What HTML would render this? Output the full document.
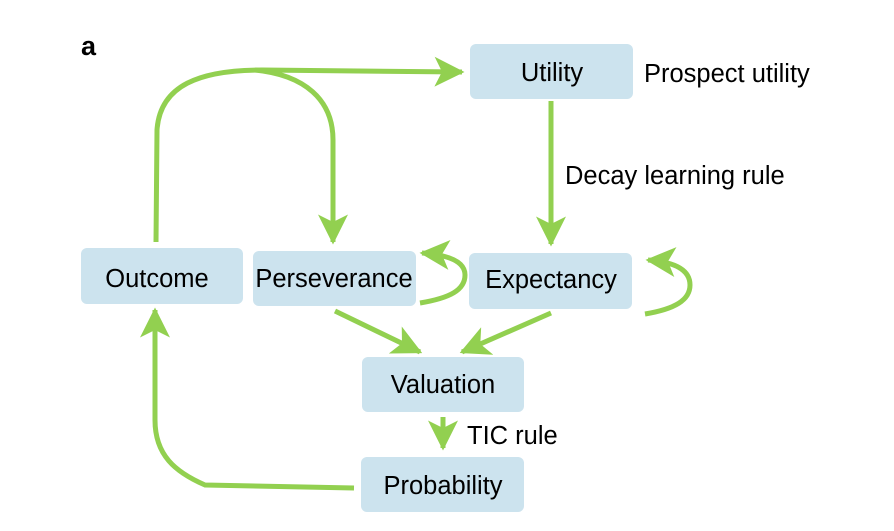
<!DOCTYPE html>
<html><head><style>
body{margin:0;background:#fff;}
svg{display:block;}
text{font-family:"Liberation Sans",Arial,sans-serif;fill:#000;}
</style></head><body>
<svg width="894" height="531" viewBox="0 0 894 531" xmlns="http://www.w3.org/2000/svg">
<defs>
<marker id="ah" viewBox="0 0 12 12" refX="11" refY="6" markerWidth="6" markerHeight="6" orient="auto" markerUnits="strokeWidth">
<path d="M0,0 L12,6 L0,12 L3,6 z" fill="#92d050"/>
</marker>
</defs>
<g fill="#cce3ee">
<rect x="470" y="44" width="163" height="55" rx="6"/>
<rect x="81" y="248" width="162" height="56" rx="6"/>
<rect x="253" y="251" width="163" height="55" rx="6"/>
<rect x="469" y="253" width="163" height="56" rx="6"/>
<rect x="362" y="357" width="162" height="55" rx="6"/>
<rect x="361" y="457" width="163" height="55" rx="6"/>
</g>
<g fill="none" stroke="#92d050" stroke-width="5">
<path d="M156,242 L157,130 C160,85 200,70 262,70 L462,72" marker-end="url(#ah)"/>
<path d="M255,70 C305,75 333,100 333,140 L333,242" marker-end="url(#ah)"/>
<path d="M551,101 L551,244" marker-end="url(#ah)"/>
<path d="M420,303 C450,298 465,290 465,275 C465,262 450,255 422,253" marker-end="url(#ah)"/>
<path d="M645,314 C675,309 690,300 690,285 C690,270 675,262 648,260" marker-end="url(#ah)"/>
<path d="M335,311 L420,352" marker-end="url(#ah)"/>
<path d="M551,313 L462,352" marker-end="url(#ah)"/>
<path d="M443,417 L443,448" marker-end="url(#ah)"/>
<path d="M354,488 L205,485 C175,472 155,455 155,420 L155,310" marker-end="url(#ah)"/>
</g>
<text x="81" y="55" font-size="27" font-weight="bold">a</text>
<g font-size="25.5" text-anchor="middle">
<text x="552" y="81">Utility</text>
<text x="157" y="287">Outcome</text>
<text x="334" y="287">Perseverance</text>
<text x="551" y="288">Expectancy</text>
<text x="443" y="393">Valuation</text>
<text x="443" y="494">Probability</text>
</g>
<g font-size="25.5">
<text x="644" y="82">Prospect utility</text>
<text x="565" y="184">Decay learning rule</text>
<text x="467" y="444">TIC rule</text>
</g>
</svg>
</body></html>
